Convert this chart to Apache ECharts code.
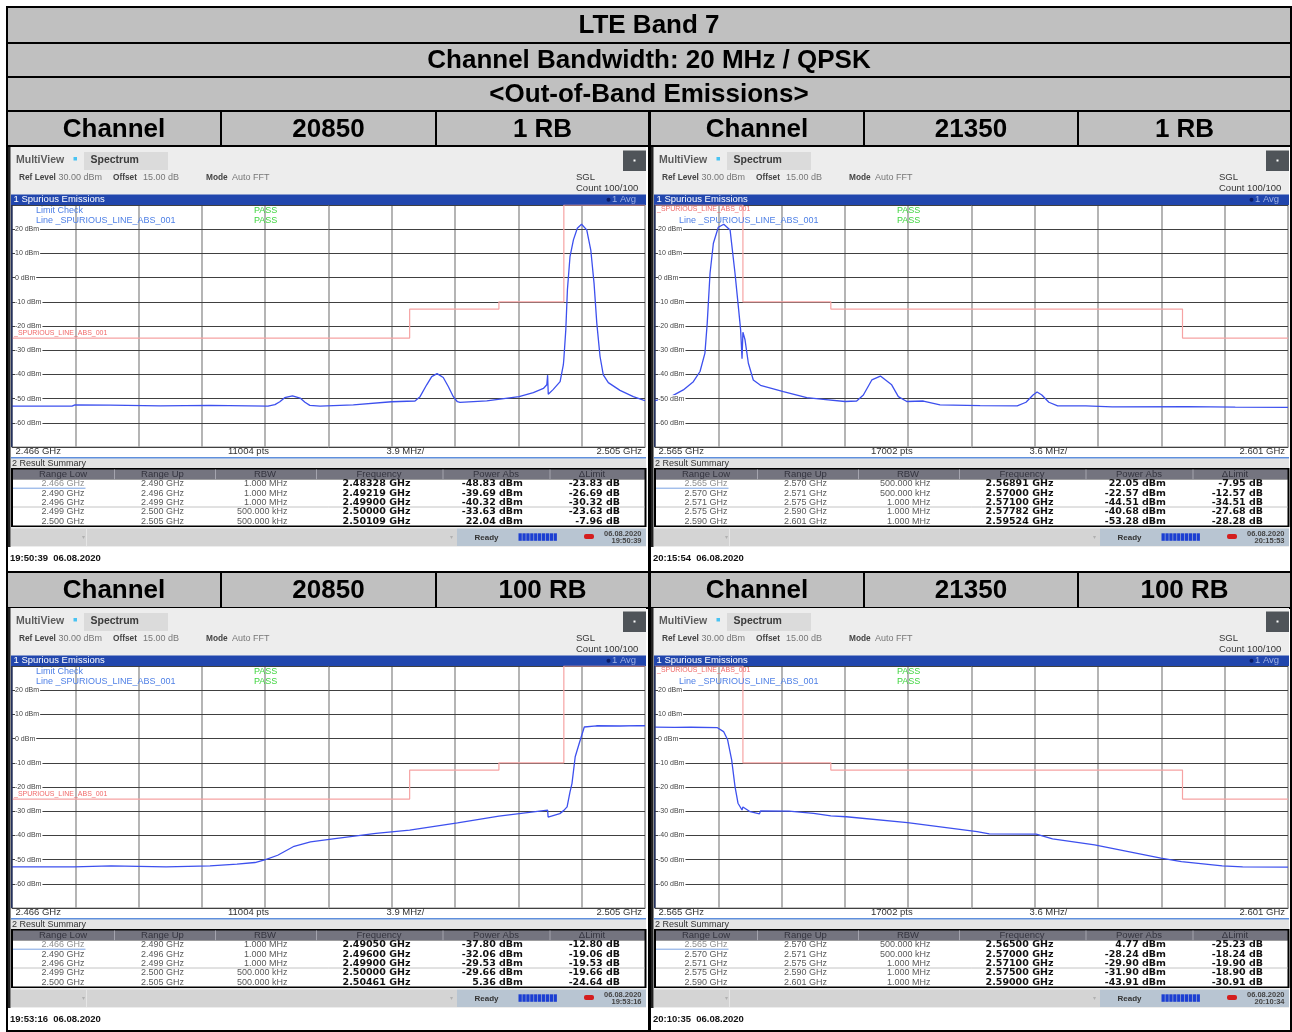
<!DOCTYPE html>
<html>
<head>
<meta charset="utf-8">
<script src="https://cdn.jsdelivr.net/npm/echarts@6/dist/echarts.min.js"></script>
<style>
html,body{margin:0;padding:0;background:#ffffff;}
#chart{width:1292px;height:1032px;}
</style>
</head>
<body>
<div id="chart"></div>
<script>
// ---------- header texts ----------
const titleRows = ['LTE Band 7', 'Channel Bandwidth: 20 MHz / QPSK', '<Out-of-Band Emissions>'];
const channelRow1RB = ['Channel', '20850', '1 RB', 'Channel', '21350', '1 RB'];
const channelRow100RB = ['Channel', '20850', '100 RB', 'Channel', '21350', '100 RB'];

// ---------- sweep spans (GHz) ----------
const sweepLow = [2.466, 2.505];
const sweepHigh = [2.565, 2.601];

// ---------- result summary ranges ----------
const lowRangeLow = ['2.466 GHz', '2.490 GHz', '2.496 GHz', '2.499 GHz', '2.500 GHz'];
const lowRangeUp = ['2.490 GHz', '2.496 GHz', '2.499 GHz', '2.500 GHz', '2.505 GHz'];
const lowRbw = ['1.000 MHz', '1.000 MHz', '1.000 MHz', '500.000 kHz', '500.000 kHz'];
const highRangeLow = ['2.565 GHz', '2.570 GHz', '2.571 GHz', '2.575 GHz', '2.590 GHz'];
const highRangeUp = ['2.570 GHz', '2.571 GHz', '2.575 GHz', '2.590 GHz', '2.601 GHz'];
const highRbw = ['500.000 kHz', '500.000 kHz', '1.000 MHz', '1.000 MHz', '1.000 MHz'];

// ---------- result summary peaks ----------
const peakFreq20850_1RB = [2.48328, 2.49219, 2.49900, 2.50000, 2.50109];
const peakPow20850_1RB = [-48.83, -39.69, -40.32, -33.63, 22.04];
const deltaLim20850_1RB = [-23.83, -26.69, -30.32, -23.63, -7.96];

const peakFreq21350_1RB = [2.56891, 2.57000, 2.57100, 2.57782, 2.59524];
const peakPow21350_1RB = [22.05, -22.57, -44.51, -40.68, -53.28];
const deltaLim21350_1RB = [-7.95, -12.57, -34.51, -27.68, -28.28];

const peakFreq20850_100RB = [2.49050, 2.49600, 2.49900, 2.50000, 2.50461];
const peakPow20850_100RB = [-37.80, -32.06, -29.53, -29.66, 5.36];
const deltaLim20850_100RB = [-12.80, -19.06, -19.53, -19.66, -24.64];

const peakFreq21350_100RB = [2.56500, 2.57000, 2.57100, 2.57500, 2.59000];
const peakPow21350_100RB = [4.77, -28.24, -29.90, -31.90, -43.91];
const deltaLim21350_100RB = [-25.23, -18.24, -19.90, -18.90, -30.91];

// ---------- limit lines [GHz, dBm] ----------
const limit20850 = [[2.466, -25], [2.4905, -25], [2.4905, -13], [2.496, -13], [2.496, -10], [2.500, -10], [2.500, 30], [2.505, 30]];
const limit21350 = [[2.565, 30], [2.570, 30], [2.570, -10], [2.575, -10], [2.575, -13], [2.595, -13], [2.595, -25], [2.601, -25]];

// ---------- measured traces [GHz, dBm] (peak points are merged in from the summary) ----------
const trace20850_1RB = [
  [2.46600, -53.1], [2.46970, -53.1], [2.46988, -52.6], [2.47204, -52.7], [2.47216, -53.1], [2.47512, -53.0],
  [2.47524, -52.7], [2.47820, -52.8], [2.47832, -53.1], [2.48177, -53.1], [2.48220, -52.5], [2.48250, -51.3],
  [2.48280, -49.6], [2.48375, -49.8], [2.48405, -51.5], [2.48435, -52.8], [2.48498, -53.1], [2.48703, -52.6],
  [2.48939, -51.3], [2.49083, -51.0], [2.49114, -49.2], [2.49155, -44.3], [2.49186, -40.9], [2.49257, -41.3],
  [2.49288, -45.0], [2.49319, -49.2], [2.49344, -51.3], [2.49360, -51.6], [2.49525, -50.9], [2.49724, -49.2],
  [2.49812, -47.5], [2.49874, -45.8], [2.49895, -44.3], [2.49904, -48.2], [2.49935, -46.2], [2.49977, -43.0],
  [2.49997, -36.0], [2.50012, -21.6], [2.50022, -5.0], [2.50038, 8.7], [2.50059, 15.6], [2.50083, 20.4],
  [2.50141, 19.7], [2.50166, 11.4], [2.50186, -2.3], [2.50203, -18.8], [2.50223, -32.6], [2.50243, -40.2],
  [2.50274, -43.4], [2.50346, -46.6], [2.50428, -49.2], [2.50490, -50.6], [2.50500, -50.8]
];
const trace21350_1RB = [
  [2.56500, -50.8], [2.56585, -49.4], [2.56661, -46.4], [2.56718, -43.0], [2.56756, -38.8], [2.56784, -31.2],
  [2.56797, -18.8], [2.56813, 1.8], [2.56832, 14.2], [2.56860, 20.8], [2.56927, 19.7], [2.56955, 1.8],
  [2.56974, -12.0], [2.56987, -21.6], [2.56995, -33.5], [2.57012, -25.7], [2.57031, -35.4], [2.57059, -42.3],
  [2.57230, -47.1], [2.57363, -49.6], [2.57457, -50.3], [2.57581, -51.2], [2.57647, -51.0], [2.57685, -48.5],
  [2.57733, -42.3], [2.57846, -44.3], [2.57884, -49.2], [2.57932, -51.2], [2.58026, -51.0], [2.58121, -52.6],
  [2.58349, -52.9], [2.58560, -53.0], [2.58610, -51.5], [2.58650, -48.5], [2.58673, -47.3], [2.58700, -48.5],
  [2.58740, -51.5], [2.58790, -53.0], [2.58950, -53.0], [2.59100, -53.4], [2.59800, -53.5], [2.60100, -53.6]
];
const trace20850_100RB = [
  [2.46600, -53.0], [2.46982, -53.0], [2.46994, -52.6], [2.47210, -52.6], [2.47222, -53.0], [2.47549, -53.0],
  [2.47561, -52.7], [2.47820, -52.6], [2.47832, -52.3], [2.47986, -51.9], [2.48097, -51.2], [2.48162, -50.0],
  [2.48237, -48.2], [2.48338, -44.5], [2.48439, -42.7], [2.48590, -41.3], [2.48842, -39.2], [2.49345, -34.8],
  [2.49750, -30.8], [2.49903, -32.4], [2.49975, -31.0], [2.50020, -28.2], [2.50038, -22.0], [2.50050, -18.6],
  [2.50070, -7.5], [2.50095, -1.9], [2.50126, 4.8], [2.50201, 5.3], [2.50346, 5.2], [2.50500, 5.3]
];
const trace21350_100RB = [
  [2.56611, 4.6], [2.56704, 4.7], [2.56855, 4.5], [2.56890, 2.9], [2.56913, -0.5], [2.56936, -8.8],
  [2.56955, -19.8], [2.56972, -26.7], [2.56995, -29.5], [2.57011, -28.6], [2.57041, -30.2], [2.57094, -31.1],
  [2.57262, -30.0], [2.57402, -30.9], [2.57588, -32.3], [2.57936, -34.7], [2.58332, -38.4], [2.58401, -39.4],
  [2.58668, -39.5], [2.58761, -41.4], [2.59377, -49.4], [2.59494, -50.8], [2.59726, -52.6], [2.59842, -53.0],
  [2.60100, -53.1]
];

// ---------- status / footer stamps ----------
const stamps = [
  ['06.08.2020', '19:50:39', '19:50:39  06.08.2020'],
  ['06.08.2020', '20:15:53', '20:15:54  06.08.2020'],
  ['06.08.2020', '19:53:16', '19:53:16  06.08.2020'],
  ['06.08.2020', '20:10:34', '20:10:35  06.08.2020']
];

// ---------- helpers ----------
function mergePeaks(readings, freqs, powers) {
  return readings.concat(freqs.map((f, i) => [f, powers[i]])).sort((a, b) => a[0] - b[0]);
}
function rect(x, y, w, h, fill, z, extra) {
  return Object.assign({ type: 'rect', silent: true, z: z || 1, shape: { x: x, y: y, width: w, height: h }, style: { fill: fill } }, extra || {});
}
function line(x1, y1, x2, y2, stroke, w, z) {
  return { type: 'line', silent: true, z: z || 2, shape: { x1: x1, y1: y1, x2: x2, y2: y2 }, style: { stroke: stroke, lineWidth: w || 1 } };
}
function text(x, y, str, font, fill, align, z) {
  return { type: 'text', silent: true, z: z || 20, x: x, y: y,
    style: { text: str, font: font, fill: fill, textAlign: align || 'left', textVerticalAlign: 'middle' } };
}

const LS = '"Liberation Sans", Arial, sans-serif';
const DV = '"DejaVu Sans", Verdana, sans-serif';

// ---------- panel descriptions ----------
const panels = [
  { ox: 8, oy: 147, sweep: sweepLow, pts: '11004 pts', span: '3.9 MHz/', start: '2.466 GHz', stop: '2.505 GHz',
    limit: limit20850, trace: mergePeaks(trace20850_1RB, peakFreq20850_1RB, peakPow20850_1RB),
    rLow: lowRangeLow, rUp: lowRangeUp, rbw: lowRbw, freq: peakFreq20850_1RB, pow: peakPow20850_1RB, dl: deltaLim20850_1RB,
    stamp: stamps[0], labelTop: false },
  { ox: 651, oy: 147, sweep: sweepHigh, pts: '17002 pts', span: '3.6 MHz/', start: '2.565 GHz', stop: '2.601 GHz',
    limit: limit21350, trace: mergePeaks(trace21350_1RB, peakFreq21350_1RB, peakPow21350_1RB),
    rLow: highRangeLow, rUp: highRangeUp, rbw: highRbw, freq: peakFreq21350_1RB, pow: peakPow21350_1RB, dl: deltaLim21350_1RB,
    stamp: stamps[1], labelTop: true },
  { ox: 8, oy: 608, sweep: sweepLow, pts: '11004 pts', span: '3.9 MHz/', start: '2.466 GHz', stop: '2.505 GHz',
    limit: limit20850, trace: mergePeaks(trace20850_100RB, peakFreq20850_100RB, peakPow20850_100RB),
    rLow: lowRangeLow, rUp: lowRangeUp, rbw: lowRbw, freq: peakFreq20850_100RB, pow: peakPow20850_100RB, dl: deltaLim20850_100RB,
    stamp: stamps[2], labelTop: false },
  { ox: 651, oy: 608, sweep: sweepHigh, pts: '17002 pts', span: '3.6 MHz/', start: '2.565 GHz', stop: '2.601 GHz',
    limit: limit21350, trace: mergePeaks(trace21350_100RB, peakFreq21350_100RB, peakPow21350_100RB),
    rLow: highRangeLow, rUp: highRangeUp, rbw: highRbw, freq: peakFreq21350_100RB, pow: peakPow21350_100RB, dl: deltaLim21350_100RB,
    stamp: stamps[3], labelTop: true }
];

const PLOT = { dx: 4, dy: 58, w: 633, h: 242 };

// ---------- report table frame ----------
const graphics = [];
graphics.push(rect(6, 6, 1286, 1026, '#000000', 0));
const GRAY = '#c0c0c0';
const titleBands = [[8, 34], [44, 32], [78, 32]];
titleRows.forEach((t, i) => {
  const b = titleBands[i];
  graphics.push(rect(8, b[0], 1282, b[1], GRAY, 1));
  graphics.push(text(649, b[0] + b[1] / 2 + 1, t, 'bold 26px ' + LS, '#000', 'center'));
});
const cellX = [[8, 220], [222, 435], [437, 648], [651, 863], [865, 1077], [1079, 1290]];
[[112, 33, channelRow1RB], [573, 34, channelRow100RB]].forEach(r => {
  cellX.forEach((c, i) => {
    graphics.push(rect(c[0], r[0], c[1] - c[0], r[1], GRAY, 1));
    graphics.push(text((c[0] + c[1]) / 2, r[0] + r[1] / 2 + 1, r[2][i], 'bold 26px ' + LS, '#000', 'center'));
  });
});
// white panel cells
graphics.push(rect(8, 147, 640, 424, '#ffffff', 1));
graphics.push(rect(651, 147, 639, 424, '#ffffff', 1));
graphics.push(rect(8, 609, 640, 421, '#ffffff', 1));
graphics.push(rect(651, 609, 639, 421, '#ffffff', 1));

// ---------- analyzer screen decorations ----------
function screen(p) {
  const X = v => p.ox + v, Y = v => p.oy + v;
  const g = [];
  const f9 = '9.5px ' + LS, b9 = 'bold 8.3px ' + LS, f9s = '9px ' + LS;
  g.push(rect(X(2), Y(0), 636, 400, '#ededed', 2));
  g.push(rect(X(0), Y(0), 2.5, 400, '#222222', 2));
  // title bar
  g.push(text(X(8), Y(13), 'MultiView', 'bold 10.5px ' + LS, '#5c5c5c'));
  g.push(rect(X(65.5), Y(10), 3.5, 3.5, '#49c3f2', 3));
  g.push(rect(X(76), Y(5), 84, 18, '#dbdbdb', 3));
  g.push(text(X(82.5), Y(13.5), 'Spectrum', 'bold 10.5px ' + LS, '#3a3a3a', 'left', 21));
  g.push(rect(X(615), Y(3.5), 23, 20.5, '#4f5459', 3));
  g.push(rect(X(625.5), Y(12.5), 2, 2, '#ffffff', 4));
  // settings line
  g.push(text(X(11), Y(30.3), 'Ref Level', b9, '#444'));
  g.push(text(X(50.5), Y(30.3), '30.00 dBm', f9s, '#777'));
  g.push(text(X(105), Y(30.3), 'Offset', b9, '#444'));
  g.push(text(X(135), Y(30.3), '15.00 dB', f9s, '#777'));
  g.push(text(X(198), Y(30.3), 'Mode', b9, '#444'));
  g.push(text(X(224), Y(30.3), 'Auto FFT', f9s, '#777'));
  g.push(text(X(568), Y(30.3), 'SGL', f9, '#333'));
  g.push(text(X(568), Y(41.3), 'Count 100/100', f9, '#333'));
  // window bar
  g.push(rect(X(3), Y(47.5), 635, 10.5, '#2146ad', 3));
  g.push(text(X(5.5), Y(52.8), '1 Spurious Emissions', '9.5px ' + LS, '#ffffff'));
  g.push({ type: 'circle', silent: true, z: 21, shape: { cx: X(600.5), cy: Y(52.8), r: 2 }, style: { fill: '#0b1c66' } });
  g.push(text(X(604), Y(52.8), '1 Avg', '9.5px ' + LS, '#9fb1e3'));
  // plot canvas
  g.push(rect(X(PLOT.dx), Y(PLOT.dy), PLOT.w, PLOT.h, '#ffffff', 3));
  g.push(line(X(3.8), Y(58), X(3.8), Y(300), '#1d2b5a', 1.5, 30));
  // limit check legend
  if (p.labelTop) {
    g.push(text(X(6), Y(62), '_SPURIOUS_LINE_ABS_001', '7px ' + LS, '#f06a6a'));
  } else {
    g.push(text(X(28), Y(63.5), 'Limit Check', '9px ' + LS, '#4f80e6'));
    g.push(text(X(6), Y(186.3), '_SPURIOUS_LINE_ABS_001', '7px ' + LS, '#f06a6a'));
  }
  g.push(text(X(28), Y(73.5), 'Line _SPURIOUS_LINE_ABS_001', '9px ' + LS, '#4f80e6'));
  g.push(text(X(246), Y(63.5), 'PASS', '9px ' + LS, '#3fd53f'));
  g.push(text(X(246), Y(73.5), 'PASS', '9px ' + LS, '#3fd53f'));
  // sweep info row
  g.push(rect(X(3), Y(300), 635, 10, '#ffffff', 3));
  g.push(line(X(3), Y(300), X(638), Y(300), '#8c8c8c', 1, 4));
  g.push(rect(X(3), Y(310), 635, 1.5, '#5f8fdc', 4));
  g.push(text(X(7.5), Y(304.8), p.start, f9, '#333'));
  g.push(text(X(220), Y(304.8), p.pts, f9, '#333'));
  g.push(text(X(378.5), Y(304.8), p.span, f9, '#333'));
  g.push(text(X(634), Y(304.8), p.stop, f9, '#333', 'right'));
  // result summary
  g.push(rect(X(3), Y(312), 635, 9, '#e4e4e4', 3));
  g.push(text(X(4), Y(317), '2 Result Summary', '9px ' + LS, '#333'));
  g.push(rect(X(3), Y(321), 635.5, 59, '#000000', 3));
  g.push(rect(X(5), Y(322.5), 631.5, 10, '#74747f', 4));
  g.push(rect(X(5), Y(332.5), 631.5, 46, '#ffffff', 4));
  const colSep = [106.5, 207.5, 308.5, 435, 542];
  colSep.forEach(c => g.push(line(X(c), Y(322.5), X(c), Y(332.5), '#a4a4ae', 1, 5)));
  const heads = [['Range Low', 55], ['Range Up', 154.5], ['RBW', 257], ['Frequency', 371], ['Power Abs', 488], ['\u0394Limit', 584]];
  heads.forEach(h => g.push(text(X(h[1]), Y(327.8), h[0], '9.5px ' + LS, '#34343f', 'center')));
  g.push(line(X(5), Y(360), X(636.5), Y(360), '#c4c4c4', 1, 5));
  g.push(line(X(5), Y(341.2), X(77.5), Y(341.2), '#7aa3e2', 1, 5));
  const rowY = [337.0, 346.3, 355.6, 365.0, 374.3];
  const vb = 'bold 9.5px ' + DV;
  rowY.forEach((ry, i) => {
    g.push(text(X(55), Y(ry), p.rLow[i], '9px ' + LS, i === 0 ? '#8f8f8f' : '#5a5a5a', 'center'));
    g.push(text(X(154.5), Y(ry), p.rUp[i], '9px ' + LS, '#5a5a5a', 'center'));
    g.push(text(X(279.5), Y(ry), p.rbw[i], '9px ' + LS, '#5a5a5a', 'right'));
    g.push(text(X(368.5), Y(ry), p.freq[i].toFixed(5) + ' GHz', vb, '#111', 'center'));
    g.push(text(X(515), Y(ry), p.pow[i].toFixed(2) + ' dBm', vb, '#111', 'right'));
    g.push(text(X(612), Y(ry), p.dl[i].toFixed(2) + ' dB', vb, '#111', 'right'));
  });
  // status bar
  g.push(rect(X(3), Y(381.5), 446, 17.5, '#d4d4d4', 3));
  g.push(line(X(78.5), Y(381.5), X(78.5), Y(399), '#e6e6e6', 1, 4));
  g.push(text(X(75), Y(390), '\u25BE', '6px ' + LS, '#b0b0b0', 'center'));
  g.push(text(X(443), Y(390), '\u25BE', '6px ' + LS, '#b0b0b0', 'center'));
  g.push(rect(X(449), Y(381.5), 189, 17.5, '#b8c5d2', 3));
  g.push(text(X(478.5), Y(390.3), 'Ready', 'bold 8px ' + LS, '#333', 'center'));
  for (let k = 0; k < 10; k++) g.push(rect(X(510.5 + k * 3.9), Y(386.3), 3.3, 7.5, '#1c3fd2', 4));
  g.push(rect(X(576), Y(387), 10, 5, '#d41e1e', 4, { shape: { x: X(576), y: Y(387), width: 10, height: 5, r: 2 } }));
  g.push(text(X(633.5), Y(387.3), p.stamp[0], 'bold 7.5px ' + LS, '#444', 'right'));
  g.push(text(X(633.5), Y(394.3), p.stamp[1], 'bold 7.5px ' + LS, '#444', 'right'));
  // footer stamp
  g.push(text(X(2), Y(411.5), p.stamp[2], 'bold 9.5px ' + LS, '#111'));
  return g;
}
panels.forEach(p => screen(p).forEach(e => graphics.push(e)));

// ---------- plots ----------
const grids = [], xAxes = [], yAxes = [], series = [];
panels.forEach((p, i) => {
  grids.push({ left: p.ox + PLOT.dx, top: p.oy + PLOT.dy, width: PLOT.w, height: PLOT.h, containLabel: false, show: false });
  // frequency scale for the data
  xAxes.push({ type: 'value', gridIndex: i, min: p.sweep[0], max: p.sweep[1], show: false });
  // ten equal divisions of the sweep
  xAxes.push({ type: 'value', gridIndex: i, min: 0, max: 10, interval: 1, z: 5,
    axisLine: { show: false }, axisTick: { show: false }, axisLabel: { show: false },
    splitLine: { show: true, lineStyle: { color: '#a2a2a2', width: 1.6 } } });
  // level grid lines
  yAxes.push({ type: 'value', gridIndex: i, min: -70, max: 30, interval: 10, position: 'left', z: 6,
    axisLine: { show: false }, axisTick: { show: false }, axisLabel: { show: false },
    splitLine: { show: true, lineStyle: { color: '#404040', width: 1 } } });
  // level labels drawn above the grid lines
  yAxes.push({ type: 'value', gridIndex: i, min: -70, max: 30, interval: 10, position: 'left', offset: 0, z: 9,
    axisLine: { show: false }, axisTick: { show: false }, splitLine: { show: false },
    axisLabel: { show: true, inside: true, margin: 3, showMinLabel: false, showMaxLabel: false,
      formatter: v => v + ' dBm', fontFamily: 'Liberation Sans', fontSize: 7, color: '#444',
      backgroundColor: '#ffffff', padding: [0, 1, 0, 0] } });
  series.push({ type: 'line', name: 'limit', xAxisIndex: 2 * i, yAxisIndex: 2 * i, data: p.limit,
    symbol: 'none', silent: true, z: 7, lineStyle: { color: '#f6a3a3', width: 1.2 } });
  series.push({ type: 'line', name: 'trace', xAxisIndex: 2 * i, yAxisIndex: 2 * i, data: p.trace,
    symbol: 'none', silent: true, z: 8, lineStyle: { color: '#3d50ee', width: 1.3 } });
});

const chart = echarts.init(document.getElementById('chart'), null, { renderer: 'canvas', width: 1292, height: 1032 });
chart.setOption({
  animation: false,
  backgroundColor: '#ffffff',
  grid: grids,
  xAxis: xAxes,
  yAxis: yAxes,
  series: series,
  graphic: { elements: graphics }
});
</script>
</body>
</html>
